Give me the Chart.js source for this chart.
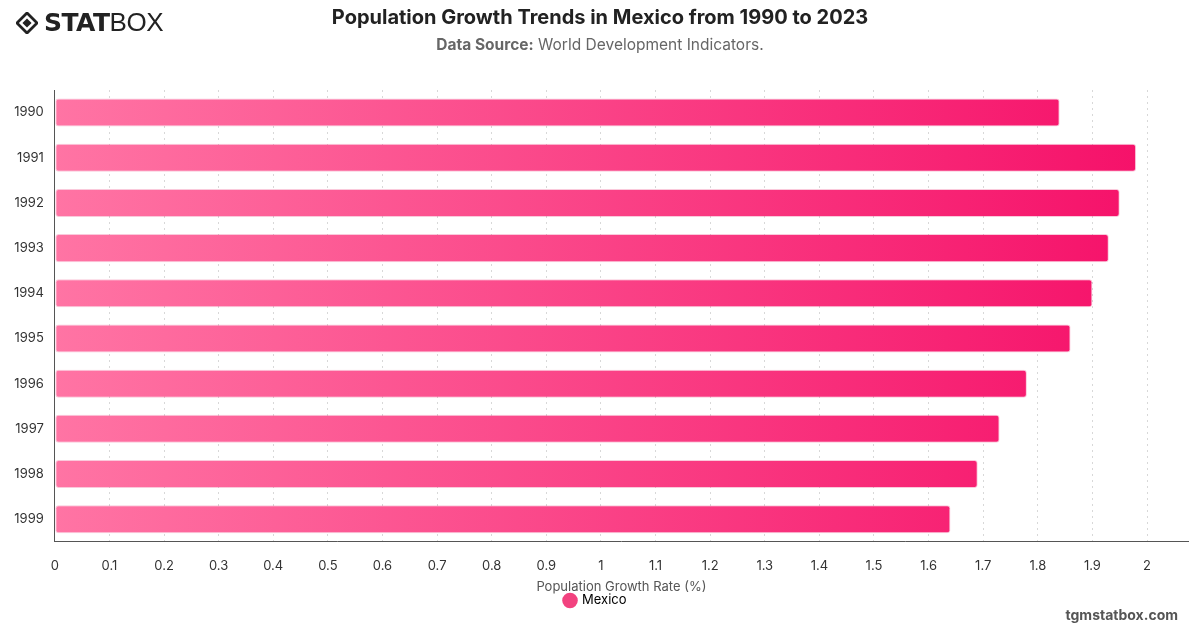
<!DOCTYPE html>
<html>
<head>
<meta charset="utf-8">
<script src="https://cdn.jsdelivr.net/npm/chart.js@4.4.0/dist/chart.umd.min.js"></script>
<style>
  html, body { margin: 0; padding: 0; background: #fff; }
  body { width: 1200px; height: 628px; position: relative; overflow: hidden; font-family: Inter, "Noto Sans", sans-serif; }
  #wrap { position: absolute; left: 0; top: 0; width: 1200px; height: 628px; }
  .logo { position: absolute; left: 16px; top: 7px; display: flex; align-items: center; color: #222; }
  .logo .ico { width: 22px; height: 22px; margin-right: 6px; }
  .logo .stat { font-family: "DejaVu Sans", sans-serif; font-weight: 900; font-size: 25px; letter-spacing: -0.5px; }
  .logo .box { font-family: "Liberation Sans", sans-serif; font-weight: 400; font-size: 26px; letter-spacing: -0.5px; }
  h1 { position: absolute; top: 5px; left: 0; width: 1200px; margin: 0; text-align: center; font-size: 20px; font-weight: 700; color: #222; }
  .sub { position: absolute; top: 35px; left: 0; width: 1200px; text-align: center; font-size: 15.5px; color: #666; }
  .sub b { font-weight: 700; }
  .mark { position: absolute; right: 22px; top: 606px; font-size: 14px; font-weight: 700; color: #555; }
</style>
</head>
<body>
<div id="wrap"><canvas id="myChart" width="1200" height="628"></canvas></div>
<div class="logo">
  <svg class="ico" viewBox="0 0 24 24">
    <path d="M12 1 L23 12 L12 23 L1 12 Z" fill="none" stroke="#222" stroke-width="3"/>
    <path d="M12 7 L17 12 L12 17 L7 12 Z" fill="#222"/>
  </svg>
  <span class="stat">STAT</span><span class="box">BOX</span>
</div>
<h1>Population Growth Trends in Mexico from 1990 to 2023</h1>
<div class="sub"><b>Data Source:</b> World Development Indicators.</div>
<div class="mark">tgmstatbox.com</div>
<script>
var years = ['1990', '1991', '1992', '1993', '1994', '1995', '1996', '1997', '1998', '1999'];
var growthRate = [1.84, 1.98, 1.95, 1.93, 1.90, 1.86, 1.78, 1.73, 1.69, 1.64];
var xTicks = [0, 0.1, 0.2, 0.3, 0.4, 0.5, 0.6, 0.7, 0.8, 0.9, 1, 1.1, 1.2, 1.3, 1.4, 1.5, 1.6, 1.7, 1.8, 1.9, 2];

Chart.defaults.font.family = 'Inter';
Chart.defaults.color = '#333';

function barGradient(ctx) {
    var chart = ctx.chart;
    var area = chart.chartArea;
    if (!area) return '#f5407c';
    var g = chart.ctx.createLinearGradient(area.left, 0, area.right, 0);
    g.addColorStop(0, '#ff74a4');
    g.addColorStop(1, '#f50d67');
    return g;
}

var myChart = new Chart(document.getElementById('myChart'), {
    type: 'bar',
    data: {
        labels: years,
        datasets: [{
            label: 'Mexico',
            data: growthRate,
            backgroundColor: barGradient,
            borderColor: 'rgba(235, 40, 110, 0.25)',
            borderWidth: 1,
            borderRadius: 3,
            borderSkipped: false,
            categoryPercentage: 1,
            barPercentage: 0.62
        }]
    },
    options: {
        indexAxis: 'y',
        responsive: false,
        animation: false,
        layout: { padding: { top: 90, left: 3, right: 12, bottom: 11 } },
        scales: {
            x: {
                min: 0,
                max: 2.075,
                afterBuildTicks: function(axis) {
                    axis.ticks = xTicks.map(function(v) { return { value: v }; });
                },
                ticks: {
                    font: { size: 13 }, color: '#333', padding: 16,
                    callback: function(v) { return String(Math.round(v * 10) / 10); }
                },
                grid: { color: '#d8d8d8', lineWidth: 1, drawTicks: false },
                border: { display: true, color: '#555', dash: [2, 4] },
                title: { display: true, text: 'Population Growth Rate (%)', font: { size: 13 }, color: '#555', padding: { top: -10, bottom: -3 } }
            },
            y: {
                ticks: { font: { size: 13 }, color: '#333', padding: 11 },
                grid: { display: false, drawTicks: false },
                border: { display: true, color: '#555' }
            }
        },
        plugins: {
            legend: {
                position: 'bottom',
                labels: {
                    usePointStyle: true,
                    pointStyle: 'circle',
                    boxWidth: 11,
                    boxHeight: 11,
                    padding: 2,
                    font: { size: 13 },
                    color: '#333',
                    generateLabels: function(chart) {
                        return [{ text: 'Mexico', fillStyle: '#f2427f', strokeStyle: '#f2427f', pointStyle: 'circle', lineWidth: 0, datasetIndex: 0 }];
                    }
                }
            },
            tooltip: { enabled: false }
        }
    }
});
</script>
</body>
</html>
